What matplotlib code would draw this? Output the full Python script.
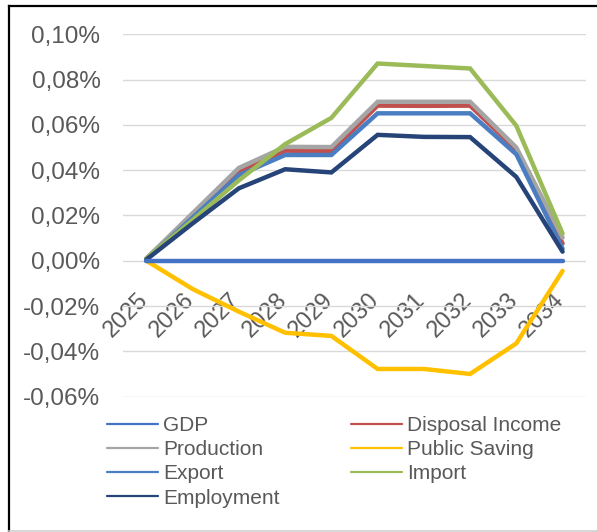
import matplotlib
matplotlib.use("Agg")
import matplotlib.pyplot as plt
from matplotlib.lines import Line2D
from matplotlib.transforms import ScaledTranslation

plt.rcParams['font.family'] = ['Liberation Sans', 'DejaVu Sans']

years = ["2025", "2026", "2027", "2028", "2029", "2030", "2031", "2032", "2033", "2034"]

gdp = [0, 0, 0, 0, 0, 0, 0, 0, 0, 0]
disposal_income = [0.001, 0.020, 0.039, 0.0486, 0.0484, 0.0685, 0.0684, 0.0685, 0.0490, 0.0076]
production = [0.001, 0.021, 0.041, 0.0503, 0.0502, 0.0702, 0.0702, 0.0702, 0.0500, 0.0102]
public_saving = [0.0, -0.0125, -0.0225, -0.0318, -0.0332, -0.0478, -0.0478, -0.0500, -0.0365, -0.0045]
export = [0.0005, 0.019, 0.0378, 0.0467, 0.0467, 0.0651, 0.0651, 0.0651, 0.0470, 0.0053]
imports = [0.001, 0.018, 0.0355, 0.0515, 0.0631, 0.0871, 0.0860, 0.0849, 0.0596, 0.0120]
employment = [0.0005, 0.0165, 0.032, 0.0404, 0.0390, 0.0556, 0.0547, 0.0546, 0.0370, 0.0040]

series = [
    ("GDP", gdp, "#4472C4"),
    ("Disposal Income", disposal_income, "#C0504D"),
    ("Production", production, "#A5A5A5"),
    ("Public Saving", public_saving, "#FFC000"),
    ("Export", export, "#4A7DC2"),
    ("Import", imports, "#9BBB59"),
    ("Employment", employment, "#264478"),
]

yticks = [-0.06, -0.04, -0.02, 0.00, 0.02, 0.04, 0.06, 0.08, 0.10]

W, H = 597, 532
fig = plt.figure(figsize=(W / 100, H / 100), dpi=100)
ax = fig.add_axes([123.3 / W, 1 - 396.6 / H, (585.7 - 123.3) / W, (396.6 - 34.3) / H])

x = list(range(len(years)))
lines = {}
for name, vals, col in series:
    ln, = ax.plot(x, vals, color=col, lw=3.2, solid_capstyle='round', solid_joinstyle='miter', label=name)
    lines[name] = ln
lines["GDP"].set_zorder(3)

ax.set_xlim(-0.5, len(years) - 0.5)
ax.set_ylim(-0.06, 0.10)
ax.set_yticks(yticks)
ax.set_yticklabels([("%.2f%%" % v).replace('.', ',') for v in yticks])
ax.yaxis.grid(True, color="#D9D9D9", lw=1.0)
ax.set_axisbelow(True)
for s in ax.spines.values():
    s.set_visible(False)
ax.spines['bottom'].set_position(('data', 0))

ax.set_xticks(x)
ax.set_xticklabels(years, rotation=45, ha='right', va='top')
ax.tick_params(axis='both', length=0, labelcolor="#595959")
ax.tick_params(axis='y', pad=16.5, labelsize=17.5)
ax.tick_params(axis='x', pad=20, labelsize=17)
off = ScaledTranslation(6 / 100, 0, fig.dpi_scale_trans)
for lab in ax.get_xticklabels():
    lab.set_transform(lab.get_transform() + off)

order = ["GDP", "Production", "Export", "Employment", "Disposal Income", "Public Saving", "Import"]
leg = fig.legend([lines[n] for n in order], order, loc='upper left',
                 bbox_to_anchor=(107 / W, 1 - 416 / H), ncol=2, frameon=False,
                 fontsize=15, handlelength=2.45, handletextpad=0.24, columnspacing=3.45,
                 labelspacing=0.25, borderpad=0, borderaxespad=0)
for t in leg.get_texts():
    t.set_color("#595959")
for l in leg.get_lines():
    l.set_linewidth(1.6)

# chart border
fig.add_artist(Line2D([9 / W, 9 / W], [0, 1 - 6 / H], color="black", lw=1.6, transform=fig.transFigure))
fig.add_artist(Line2D([9 / W, 1], [1 - 6 / H, 1 - 6 / H], color="black", lw=1.6, transform=fig.transFigure))
fig.add_artist(Line2D([9 / W, 1], [1.5 / H, 1.5 / H], color="#D0D0D0", lw=1.2, transform=fig.transFigure))

fig.savefig("out.png", dpi=100)
